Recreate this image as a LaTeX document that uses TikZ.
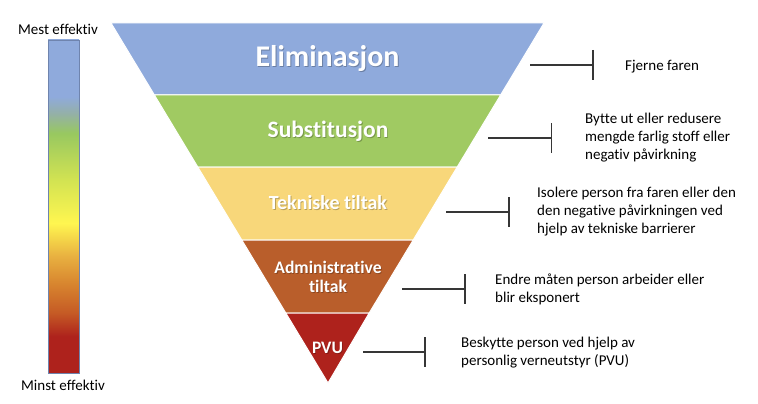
\documentclass[tikz,border=0pt]{standalone}
\usepackage{fontspec}
\setmainfont[RawFeature={-liga;-clig;-dlig}]{Carlito}
\usetikzlibrary{arrows.meta}
\definecolor{cBlue}{HTML}{8FAADC}
\definecolor{cGreen}{HTML}{A0CA62}
\definecolor{cYellow}{HTML}{F8D77A}
\definecolor{cBrown}{HTML}{B95E2B}
\definecolor{cRed}{HTML}{AE221C}
\definecolor{cLine}{HTML}{363636}
\definecolor{cBarEdge}{HTML}{6F84AE}
\definecolor{gA}{HTML}{C55A25}
\definecolor{gB}{HTML}{D8862F}
\definecolor{gC}{HTML}{E8B040}
\definecolor{gD}{HTML}{FFF650}
\definecolor{gE}{HTML}{D2E352}
\definecolor{gF}{HTML}{98C860}
\definecolor{gG}{HTML}{94B0A8}
% colour range between 25bp and 75bp (the part TikZ fits to the path)
\pgfdeclareverticalshading{effbar}{100bp}{%
  color(0bp)=(cRed);
  color(25bp)=(cRed);
  color(30.5bp)=(cRed);
  color(34bp)=(gA);
  color(38.5bp)=(gB);
  color(42.5bp)=(gC);
  color(47.5bp)=(gD);
  color(54bp)=(gE);
  color(61bp)=(gF);
  color(64bp)=(gG);
  color(66.5bp)=(cBlue);
  color(75bp)=(cBlue);
  color(100bp)=(cBlue)}
\tikzset{
  band/.style={draw=white, line width=1pt},
  title/.style={text=white, font=\bfseries, inner sep=0pt, align=center},
  desc/.style={anchor=west, inner sep=0pt, align=left, font=\fontsize{15}{18}\selectfont, text=black},
  conn/.style={draw=cLine, line width=1.3pt, -{Bar[width=30pt,line width=1.3pt]}},
  scale label/.style={inner sep=0pt, font=\fontsize{15}{17}\selectfont}
}
\newcommand{\shadowtitle}[4]{%
  \node[title, text=black, opacity=0.25, font=\fontsize{#3}{#4}\selectfont\bfseries] at ([shift={(0.9,0.9)}]#1) {#2};
}
\begin{document}
\begin{tikzpicture}[x=1pt, y=-1pt]
\useasboundingbox (0,0) rectangle (758,404);
% bands
\fill[cBlue, band] (111,23) -- (544,23) -- (500.6,95) -- (154.4,95) -- cycle;
\fill[cGreen, band] (154.4,95) -- (500.6,95) -- (457.2,167) -- (197.8,167) -- cycle;
\fill[cYellow, band] (197.8,167) -- (457.2,167) -- (413.2,240) -- (241.8,240) -- cycle;
\fill[cBrown, band] (241.8,240) -- (413.2,240) -- (369.2,313) -- (285.8,313) -- cycle;
\fill[cRed, band] (285.8,313) -- (369.2,313) -- (328,383) -- cycle;
% titles with soft shadow
\shadowtitle{327.5,59}{Eliminasjon}{30}{34}
\node[title, font=\fontsize{30}{34}\selectfont\bfseries] (t1) at (327.5,59) {Eliminasjon};
\shadowtitle{328,131}{Substitusjon}{23.5}{27}
\node[title, font=\fontsize{23.5}{27}\selectfont\bfseries] (t2) at (328,131) {Substitusjon};
\shadowtitle{328,203}{Tekniske tiltak}{20}{24}
\node[title, font=\fontsize{20}{24}\selectfont\bfseries] (t3) at (328,203) {Tekniske tiltak};
\shadowtitle{328,277}{Administrative\\tiltak}{17.6}{19}
\node[title, font=\fontsize{17.6}{19}\selectfont\bfseries] (t4) at (328,277) {Administrative\\tiltak};
\shadowtitle{327.5,347.5}{PVU}{17.5}{21}
\node[title, font=\fontsize{17.5}{21}\selectfont\bfseries] (t5) at (327.5,347.5) {PVU};
% connectors
\coordinate (s1) at (530,65);  \coordinate (e1) at (593.5,65);
\coordinate (s2) at (488,138); \coordinate (e2) at (552,138);
\coordinate (s3) at (446,212); \coordinate (e3) at (509.5,212);
\coordinate (s4) at (402,289); \coordinate (e4) at (465.5,289);
\coordinate (s5) at (363,352); \coordinate (e5) at (425.5,352);
\draw[conn] (s1) -- (e1);
\draw[conn] (s2) -- (e2);
\draw[conn] (s3) -- (e3);
\draw[conn] (s4) -- (e4);
\draw[conn] (s5) -- (e5);
% descriptions
\node[desc] (d1) at (625,67) {Fjerne faren};
\node[desc] (d2) at (585,138) {Bytte ut eller redusere\\mengde farlig stoff eller\\negativ påvirkning};
\node[desc] (d3) at (537,212) {Isolere person fra faren eller den\\den negative påvirkningen ved\\hjelp av tekniske barrierer};
\node[desc] (d4) at (495,289) {Endre måten person arbeider eller\\blir eksponert};
\node[desc] (d5) at (461,353) {Beskytte person ved hjelp av\\personlig verneutstyr (PVU)};
% effectiveness bar
\path[shading=effbar, draw=cBarEdge, line width=0.8pt] (48,40) rectangle (79,373);
\node[scale label] (top) at (58,29) {Mest effektiv};
\node[scale label] (bot) at (63,385) {Minst effektiv};
\end{tikzpicture}
\end{document}
